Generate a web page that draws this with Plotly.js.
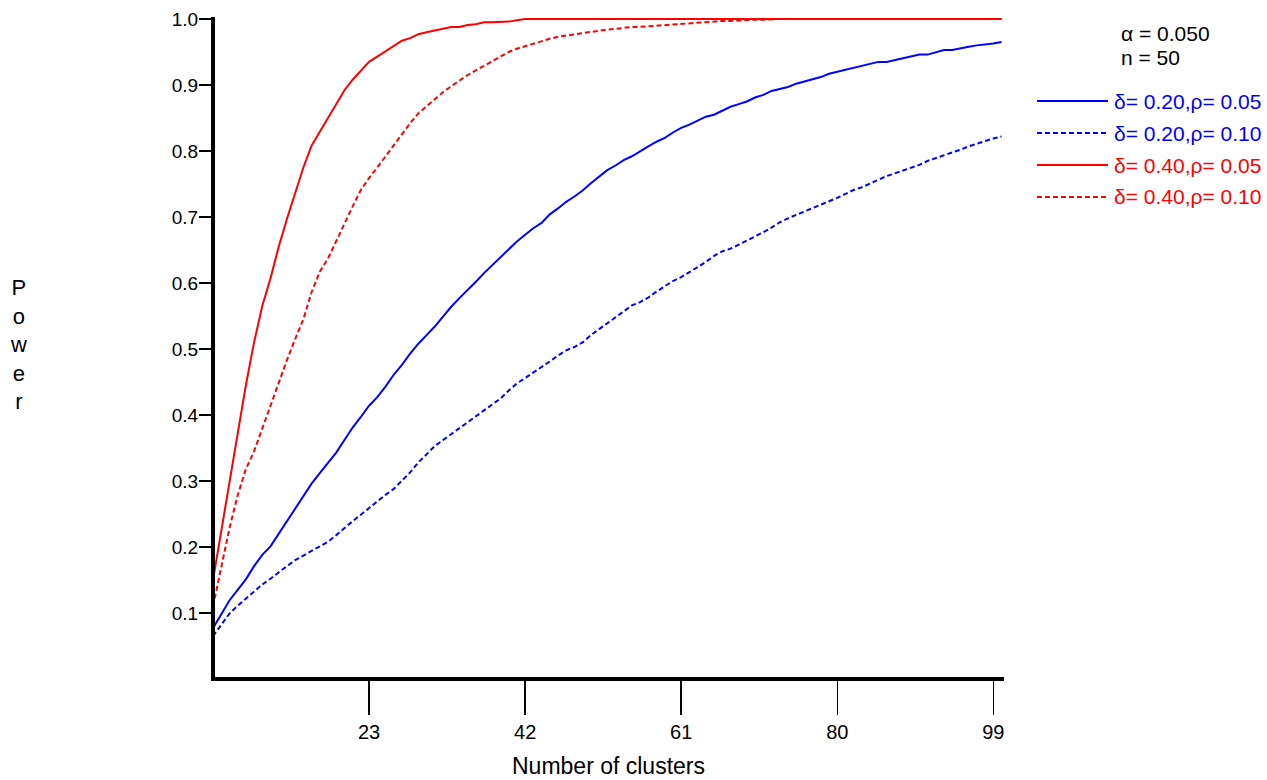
<!DOCTYPE html>
<html>
<head>
<meta charset="utf-8">
<script src="https://cdn.plot.ly/plotly-3.0.1.min.js"></script>
<style>
  html, body { margin: 0; padding: 0; background: #ffffff; }
  #chart { width: 1267px; height: 780px; }
</style>
</head>
<body>
<div id="chart"></div>
<script>
// ---------- DATA ----------
const clusters = [
  4, 5, 6, 7, 8, 9, 10, 11, 12, 13, 14, 15, 16, 17, 18, 19, 20, 21, 22, 23,
  24, 25, 26, 27, 28, 29, 30, 31, 32, 33, 34, 35, 36, 37, 38, 39, 40, 41, 42, 43,
  44, 45, 46, 47, 48, 49, 50, 51, 52, 53, 54, 55, 56, 57, 58, 59, 60, 61, 62, 63,
  64, 65, 66, 67, 68, 69, 70, 71, 72, 73, 74, 75, 76, 77, 78, 79, 80, 81, 82, 83,
  84, 85, 86, 87, 88, 89, 90, 91, 92, 93, 94, 95, 96, 97, 98, 99, 100
];

// delta = 0.20, rho = 0.05 (blue solid)
const powerD20R05 = [
  0.077, 0.098, 0.119, 0.135, 0.151, 0.171, 0.188, 0.201, 0.220, 0.238, 0.257, 0.277, 0.296, 0.312, 0.328, 0.343, 0.362, 0.381, 0.397, 0.414,
  0.427, 0.443, 0.461, 0.476, 0.493, 0.508, 0.521, 0.534, 0.549, 0.564, 0.577, 0.589, 0.602, 0.615, 0.627, 0.639, 0.652, 0.663, 0.673, 0.683,
  0.691, 0.704, 0.713, 0.723, 0.731, 0.740, 0.751, 0.761, 0.771, 0.778, 0.786, 0.792, 0.800, 0.807, 0.814, 0.820, 0.828, 0.835, 0.840, 0.846,
  0.852, 0.855, 0.861, 0.867, 0.871, 0.875, 0.881, 0.885, 0.891, 0.894, 0.897, 0.902, 0.905, 0.908, 0.912, 0.917, 0.920, 0.923, 0.926, 0.929,
  0.932, 0.935, 0.935, 0.938, 0.941, 0.944, 0.946, 0.946, 0.950, 0.953, 0.953, 0.956, 0.958, 0.960, 0.961, 0.963, 0.965
];

// delta = 0.20, rho = 0.10 (blue dashed)
const powerD20R10 = [
  0.065, 0.082, 0.099, 0.111, 0.122, 0.133, 0.143, 0.152, 0.162, 0.171, 0.180, 0.187, 0.194, 0.200, 0.208, 0.218, 0.229, 0.239, 0.249, 0.259,
  0.270, 0.279, 0.288, 0.300, 0.313, 0.328, 0.341, 0.353, 0.362, 0.371, 0.380, 0.388, 0.397, 0.406, 0.415, 0.425, 0.437, 0.448, 0.456, 0.464,
  0.472, 0.481, 0.490, 0.498, 0.503, 0.510, 0.521, 0.530, 0.539, 0.548, 0.558, 0.566, 0.571, 0.578, 0.587, 0.595, 0.603, 0.609, 0.616, 0.624,
  0.632, 0.641, 0.648, 0.652, 0.658, 0.664, 0.671, 0.677, 0.684, 0.692, 0.698, 0.703, 0.709, 0.713, 0.718, 0.724, 0.729, 0.735, 0.741, 0.745,
  0.751, 0.757, 0.762, 0.766, 0.770, 0.774, 0.779, 0.785, 0.789, 0.794, 0.798, 0.802, 0.807, 0.811, 0.816, 0.819, 0.822
];

// delta = 0.40, rho = 0.05 (red solid)
const powerD40R05 = [
  0.150, 0.225, 0.295, 0.370, 0.445, 0.510, 0.565, 0.607, 0.655, 0.697, 0.737, 0.775, 0.808, 0.829, 0.852, 0.873, 0.892, 0.908, 0.922, 0.935,
  0.943, 0.951, 0.958, 0.967, 0.971, 0.977, 0.980, 0.983, 0.986, 0.988, 0.988, 0.991, 0.992, 0.995, 0.995, 0.995, 0.996, 0.998, 1.000, 1.000,
  1.000, 1.000, 1.000, 1.000, 1.000, 1.000, 1.000, 1.000, 1.000, 1.000, 1.000, 1.000, 1.000, 1.000, 1.000, 1.000, 1.000, 1.000, 1.000, 1.000,
  1.000, 1.000, 1.000, 1.000, 1.000, 1.000, 1.000, 1.000, 1.000, 1.000, 1.000, 1.000, 1.000, 1.000, 1.000, 1.000, 1.000, 1.000, 1.000, 1.000,
  1.000, 1.000, 1.000, 1.000, 1.000, 1.000, 1.000, 1.000, 1.000, 1.000, 1.000, 1.000, 1.000, 1.000, 1.000, 1.000, 1.000
];

// delta = 0.40, rho = 0.10 (red dashed)
const powerD40R10 = [
  0.110, 0.170, 0.228, 0.278, 0.318, 0.345, 0.380, 0.413, 0.450, 0.483, 0.515, 0.545, 0.586, 0.617, 0.637, 0.664, 0.690, 0.716, 0.741, 0.759,
  0.775, 0.792, 0.808, 0.825, 0.842, 0.857, 0.868, 0.879, 0.889, 0.898, 0.907, 0.915, 0.922, 0.929, 0.937, 0.943, 0.950, 0.955, 0.959, 0.963,
  0.967, 0.970, 0.973, 0.975, 0.976, 0.978, 0.981, 0.983, 0.984, 0.985, 0.987, 0.988, 0.988, 0.989, 0.989, 0.990, 0.991, 0.992, 0.993, 0.995,
  0.996, 0.996, 0.997, 0.997, 0.998, 0.999, 0.999, 0.999, 1.000, 1.000, 1.000, 1.000, 1.000, 1.000, 1.000, 1.000, 1.000, 1.000, 1.000, 1.000,
  1.000, 1.000, 1.000, 1.000, 1.000, 1.000, 1.000, 1.000, 1.000, 1.000, 1.000, 1.000, 1.000, 1.000, 1.000, 1.000, 1.000
];

const seriesNames  = ["δ= 0.20,ρ= 0.05", "δ= 0.20,ρ= 0.10", "δ= 0.40,ρ= 0.05", "δ= 0.40,ρ= 0.10"];
const seriesValues = [powerD20R05, powerD20R10, powerD40R05, powerD40R10];
const xTickVals    = [23, 42, 61, 80, 99];
const yTickVals    = [0.1, 0.2, 0.3, 0.4, 0.5, 0.6, 0.7, 0.8, 0.9, 1.0];
const infoLines    = ["α = 0.050", "n = 50"];

// ---------- STYLE ----------
const seriesColors = ["#0000ff", "#0000ff", "#ff0000", "#ff0000"];
const seriesDash   = ["solid", "5px,3px", "solid", "5px,3px"];
const FONT = "Liberation Sans, Arial, Helvetica, sans-serif";
const W = 1267, H = 780;
const M = { l: 213, r: 263, t: 17, b: 101 };
const PW = W - M.l - M.r, PH = H - M.t - M.b;
const px2x = px => (px - M.l) / PW;
const py2y = py => (H - M.b - py) / PH;
const X_RANGE = [4, 100.3];
const Y_RANGE = [0, 1.003];

const traces = seriesValues.map((vals, i) => ({
  type: "scatter",
  mode: "lines",
  x: clusters,
  y: vals,
  name: seriesNames[i],
  line: { color: seriesColors[i], width: 2, dash: seriesDash[i] },
  showlegend: false,
  hoverinfo: "x+y+name"
}));

const shapes = [];
const annotations = [];

// heavy axis lines centred on the plot edges (drawn over the curves, like the reference)
shapes.push({
  type: "line", xref: "paper", yref: "paper",
  x0: 0, x1: 0, y0: py2y(681), y1: 1,
  line: { color: "#000000", width: 4 }, layer: "above"
});
shapes.push({
  type: "line", xref: "paper", yref: "paper",
  x0: px2x(211), x1: 1, y0: 0, y1: 0,
  line: { color: "#000000", width: 4 }, layer: "above"
});

// custom legend (long line samples, coloured text)
const legendRowY = [101, 133, 165, 197];
seriesNames.forEach((name, i) => {
  shapes.push({
    type: "line", xref: "paper", yref: "paper",
    x0: px2x(1037), x1: px2x(1108), y0: py2y(legendRowY[i]), y1: py2y(legendRowY[i]),
    line: { color: seriesColors[i], width: 2, dash: seriesDash[i] }
  });
  annotations.push({
    xref: "paper", yref: "paper", x: px2x(1112), y: py2y(legendRowY[i]),
    xanchor: "left", yanchor: "middle", showarrow: false,
    text: name, font: { family: FONT, size: 21, color: seriesColors[i] }
  });
});
const infoY = [33, 58];
infoLines.forEach((t, i) => {
  annotations.push({
    xref: "paper", yref: "paper", x: px2x(1119), y: py2y(infoY[i]),
    xanchor: "left", yanchor: "middle", showarrow: false,
    text: t, font: { family: FONT, size: 21, color: "#000000" }
  });
});
// stacked vertical y-axis title
annotations.push({
  xref: "paper", yref: "paper", x: px2x(18), y: py2y(344),
  xanchor: "center", yanchor: "middle", showarrow: false,
  text: "P<br>o<br>w<br>e<br>r", align: "center",
  font: { family: FONT, size: 22, color: "#000000" }
});

const layout = {
  width: W, height: H,
  margin: M,
  paper_bgcolor: "#ffffff",
  plot_bgcolor: "#ffffff",
  font: { family: FONT, size: 20, color: "#000000" },
  showlegend: false,
  xaxis: {
    range: X_RANGE,
    tickmode: "array", tickvals: xTickVals,
    ticks: "outside", ticklen: 35, tickwidth: 1.5, tickcolor: "#000000",
    showline: false, showgrid: false, zeroline: false,
    tickfont: { family: FONT, size: 20, color: "#000000" },
    title: { text: "Number of clusters", standoff: 15, font: { family: FONT, size: 23, color: "#000000" } }
  },
  yaxis: {
    range: Y_RANGE,
    tickmode: "array", tickvals: yTickVals, tickformat: ".1f",
    ticks: "outside", ticklen: 13, tickwidth: 1.5, tickcolor: "#000000",
    ticklabelstandoff: -3,
    showline: false, showgrid: false, zeroline: false,
    tickfont: { family: FONT, size: 19, color: "#000000" }
  },
  shapes: shapes,
  annotations: annotations
};

Plotly.newPlot("chart", traces, layout, { displayModeBar: false, staticPlot: true });
</script>
</body>
</html>
